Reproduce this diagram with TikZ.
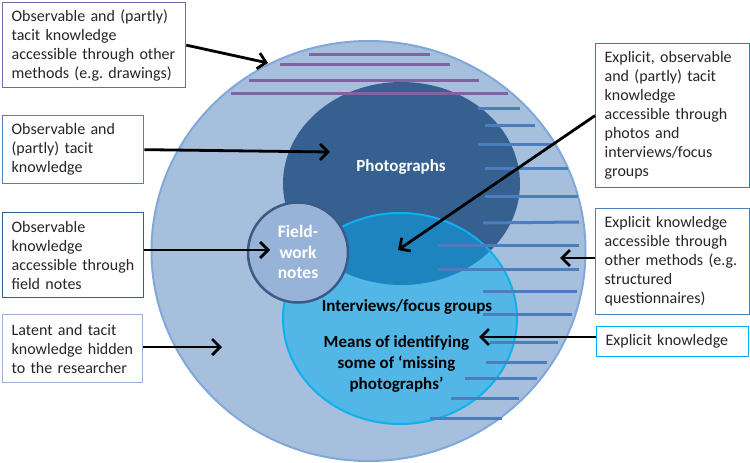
\documentclass[tikz,border=0pt]{standalone}
\usepackage{fontspec}
\setmainfont{Carlito}
\usetikzlibrary{arrows.meta,calc}
\frenchspacing
\definecolor{outerfill}{HTML}{A6BFDD}
\definecolor{outerline}{HTML}{82A8DA}
\definecolor{photofill}{HTML}{35608F}
\definecolor{midblue}{HTML}{1D84C0}
\definecolor{intfill}{HTML}{52B6E6}
\definecolor{intline}{HTML}{0FB0EE}
\definecolor{fieldfill}{HTML}{98B3D8}
\definecolor{fieldline}{HTML}{3B5B86}
\definecolor{hpurple}{HTML}{8064A2}
\definecolor{hblue}{HTML}{4A7EBD}
\definecolor{bpurple}{HTML}{8064A2}
\definecolor{bblue}{HTML}{4F81BD}
\definecolor{bdark}{HTML}{385D8A}
\definecolor{blight}{HTML}{95B3D7}
\definecolor{bteal}{HTML}{31859C}
\definecolor{bcyan}{HTML}{00B0F0}
\definecolor{textgray}{HTML}{262626}
\begin{document}
\begin{tikzpicture}[x=1pt,y=-1pt,
  box/.style={draw, line width=1.3pt, fill=white, rectangle, inner xsep=9pt, inner ysep=0pt,
    align=left, font=\fontsize{16}{19}\selectfont, text=textgray, anchor=north west},
  arr/.style={line width=2.8pt, -{Straight Barb[length=8pt,width=16pt]}},
  hpur/.style={line width=3pt, draw=hpurple},
  hblu/.style={line width=3pt, draw=hblue},
  ctext/.style={font=\fontsize{17}{21}\selectfont\bfseries, align=center, inner sep=0pt}]
\useasboundingbox (0,0) rectangle (750,463);
% circles
\path[fill=outerfill, draw=outerline, line width=2pt] (368.5,251) ellipse [x radius=217, y radius=210];
\fill[photofill] (401.5,183.5) ellipse [x radius=118.5, y radius=101.5];
\fill[intfill] (400,318.5) ellipse [x radius=117, y radius=105.5];
\begin{scope}
  \clip (401.5,183.5) ellipse [x radius=118.5, y radius=101.5];
  \fill[midblue] (400,318.5) ellipse [x radius=117, y radius=105.5];
\end{scope}
\draw[intline, line width=2pt] (400,318.5) ellipse [x radius=117, y radius=105.5];
\path[fill=fieldfill, draw=fieldline, line width=2.5pt] (298,252.5) circle [radius=50];
% purple hatch
\draw[hpur] (309,54) -- (430,54);
\draw[hpur] (280,64) -- (450,64);
\draw[hpur] (249,80) -- (479,80);
\draw[hpur] (231,93) -- (508,93);
% blue hatch
\draw[hblu] (478,108) -- (520,108);
\draw[hblu] (485,125) -- (535,125);
\draw[hblu] (478,144) -- (554,144);
\draw[hblu] (485,168) -- (568,168);
\draw[hblu] (485,196) -- (578,196);
\draw[hblu] (483,223) -- (579,222);
\draw[hblu] (438,245) -- (579,245);
\draw[hblu] (438,269) -- (579,269);
\draw[hblu] (483,291) -- (577,291);
\draw[hblu] (483,314) -- (572,314);
\draw[hblu] (490,342) -- (558,342);
\draw[hblu] (486,362) -- (547,362);
\draw[hblu] (465,378) -- (537,378);
\draw[hblu] (451,398) -- (519,398);
\draw[hblu] (430,418) -- (502,418);
% center texts
\node[ctext, text=white] (photo) at (401,167) {Photographs};
\node[ctext, text=white, font=\fontsize{17.5}{20.5}\selectfont\bfseries] (field) at (298,252) {Field-\\work\\notes};
\node[ctext, text=black] (intv) at (407,307) {Interviews/focus groups};
\node[ctext, text=black] (means) at (396.5,364) {Means of identifying\\some of ‘missing\\photographs’};
% boxes
\node[box, draw=bpurple, minimum width=183pt, minimum height=85pt, text width=165pt] (b1) at (2,2)
  {Observable and (partly)\\tacit knowledge\\accessible through other\\methods (e.g. drawings)};
\node[box, draw=bblue, minimum width=141pt, minimum height=68pt, text width=123pt] (b2) at (2,115)
  {Observable and\\(partly) tacit\\knowledge};
\node[box, draw=bdark, minimum width=141pt, minimum height=85pt, text width=123pt] (b3) at (2,212)
  {Observable\\knowledge\\accessible through\\field notes};
\node[box, draw=blight, minimum width=140pt, minimum height=68pt, text width=122pt] (b4) at (2,314)
  {Latent and tacit\\knowledge hidden\\to the researcher};
\node[box, draw=bteal, minimum width=154pt, minimum height=144pt, text width=136pt] (b5) at (595,43)
  {Explicit, observable\\and (partly) tacit\\knowledge\\accessible through\\photos and\\interviews/focus\\groups};
\node[box, draw=bblue, minimum width=154pt, minimum height=106pt, text width=136pt] (b6) at (595,208)
  {Explicit knowledge\\accessible through\\other methods (e.g.\\structured\\questionnaires)};
\node[box, draw=bcyan, minimum width=152pt, minimum height=30pt, text width=134pt] (b7) at (596,326)
  {Explicit knowledge};
% arrows
\coordinate (t1) at (268,63);
\coordinate (t2) at (330,152);
\coordinate (t3) at (270,250);
\coordinate (t4) at (222,347);
\coordinate (t5) at (398,250);
\coordinate (t6) at (560,258);
\coordinate (t7) at (479,337);
\draw[arr] (b1.east) -- (t1);
\draw[arr] (b2.east) -- (t2);
\draw[arr] (b3.east |- t3) -- (t3);
\draw[arr] (b4.east |- t4) -- (t4);
\draw[arr] (b5.west) -- (t5);
\draw[arr] (b6.west |- t6) -- (t6);
\draw[arr] (b7.west |- t7) -- (t7);
\end{tikzpicture}
\end{document}
